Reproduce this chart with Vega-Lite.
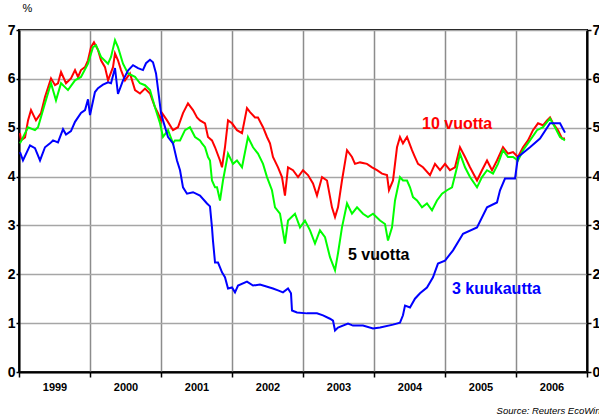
{
  "$schema": "https://vega.github.io/schema/vega-lite/v6.json",
  "width": 568,
  "height": 342,
  "autosize": {"type": "none"},
  "padding": {"left": 19, "top": 30, "right": 12, "bottom": 47},
  "background": "white",
  "config": {"font": "Liberation Sans", "view": {"stroke": "black", "strokeWidth": 2}},
  "title": {"text": "Source: Reuters EcoWin", "orient": "bottom", "anchor": "end", "fontSize": 9.5, "fontStyle": "italic", "fontWeight": "normal", "color": "black", "offset": 14, "dx": -22, "limit": 1000},
  "datasets": {
    "r10": [
      {"t":1999.014,"value":4.89},{"t":1999.028,"value":4.74},{"t":1999.085,"value":4.80},{"t":1999.127,"value":5.15},{"t":1999.169,"value":5.36},{"t":1999.239,"value":5.15},{"t":1999.31,"value":5.30},{"t":1999.366,"value":5.63},{"t":1999.451,"value":6.01},{"t":1999.507,"value":5.87},{"t":1999.549,"value":5.91},{"t":1999.592,"value":6.14},{"t":1999.662,"value":5.91},{"t":1999.732,"value":6.01},{"t":1999.789,"value":6.18},{"t":1999.831,"value":6.04},{"t":1999.873,"value":6.18},{"t":1999.93,"value":6.24},{"t":1999.972,"value":6.38},
      {"t":2000.014,"value":6.65},{"t":2000.056,"value":6.75},{"t":2000.113,"value":6.59},{"t":2000.155,"value":6.38},{"t":2000.211,"value":6.24},{"t":2000.254,"value":5.97},{"t":2000.324,"value":6.24},{"t":2000.352,"value":6.52},{"t":2000.394,"value":6.38},{"t":2000.437,"value":6.18},{"t":2000.493,"value":5.97},{"t":2000.563,"value":6.11},{"t":2000.634,"value":5.77},{"t":2000.704,"value":5.70},{"t":2000.775,"value":5.80},{"t":2000.845,"value":5.70},{"t":2000.915,"value":5.42},{"t":2000.958,"value":5.30},
      {"t":2001.0,"value":5.15},{"t":2001.014,"value":5.30},{"t":2001.085,"value":5.15},{"t":2001.169,"value":4.95},{"t":2001.239,"value":5.01},{"t":2001.31,"value":5.30},{"t":2001.38,"value":5.50},{"t":2001.451,"value":5.36},{"t":2001.507,"value":5.21},{"t":2001.549,"value":5.15},{"t":2001.62,"value":5.09},{"t":2001.662,"value":4.81},{"t":2001.718,"value":4.74},{"t":2001.761,"value":4.60},{"t":2001.831,"value":4.33},{"t":2001.859,"value":4.19},{"t":2001.901,"value":4.60},{"t":2001.944,"value":5.15},
      {"t":2002.0,"value":5.09},{"t":2002.07,"value":4.95},{"t":2002.141,"value":4.89},{"t":2002.211,"value":5.40},{"t":2002.254,"value":5.32},{"t":2002.324,"value":5.21},{"t":2002.366,"value":5.21},{"t":2002.437,"value":5.01},{"t":2002.493,"value":4.81},{"t":2002.535,"value":4.68},{"t":2002.577,"value":4.40},{"t":2002.648,"value":4.19},{"t":2002.704,"value":3.99},{"t":2002.746,"value":3.61},{"t":2002.789,"value":4.19},{"t":2002.859,"value":4.13},{"t":2002.93,"value":3.99},
      {"t":2003.0,"value":4.13},{"t":2003.07,"value":4.03},{"t":2003.141,"value":3.86},{"t":2003.197,"value":3.61},{"t":2003.268,"value":3.99},{"t":2003.338,"value":3.92},{"t":2003.408,"value":3.37},{"t":2003.451,"value":3.17},{"t":2003.493,"value":3.37},{"t":2003.549,"value":3.92},{"t":2003.62,"value":4.54},{"t":2003.69,"value":4.40},{"t":2003.732,"value":4.26},{"t":2003.803,"value":4.29},{"t":2003.901,"value":4.26},{"t":2003.972,"value":4.19},
      {"t":2004.042,"value":4.13},{"t":2004.113,"value":4.06},{"t":2004.183,"value":4.03},{"t":2004.211,"value":3.72},{"t":2004.268,"value":3.92},{"t":2004.324,"value":4.60},{"t":2004.366,"value":4.81},{"t":2004.408,"value":4.68},{"t":2004.465,"value":4.81},{"t":2004.535,"value":4.54},{"t":2004.577,"value":4.40},{"t":2004.62,"value":4.26},{"t":2004.69,"value":4.19},{"t":2004.789,"value":4.03},{"t":2004.859,"value":4.26},{"t":2004.93,"value":4.13},
      {"t":2005.0,"value":4.26},{"t":2005.07,"value":4.13},{"t":2005.141,"value":4.19},{"t":2005.211,"value":4.60},{"t":2005.282,"value":4.40},{"t":2005.352,"value":4.19},{"t":2005.451,"value":3.92},{"t":2005.521,"value":4.13},{"t":2005.592,"value":4.33},{"t":2005.662,"value":4.13},{"t":2005.732,"value":4.33},{"t":2005.817,"value":4.60},{"t":2005.887,"value":4.47},{"t":2005.958,"value":4.50},
      {"t":2006.028,"value":4.40},{"t":2006.099,"value":4.60},{"t":2006.169,"value":4.74},{"t":2006.239,"value":4.95},{"t":2006.31,"value":5.09},{"t":2006.38,"value":5.05},{"t":2006.437,"value":5.15},{"t":2006.479,"value":5.21},{"t":2006.521,"value":5.09},{"t":2006.592,"value":4.95},{"t":2006.648,"value":4.78},{"t":2006.69,"value":4.78}
    ],
    "r5": [
      {"t":1999.014,"value":4.68},{"t":1999.127,"value":5.01},{"t":1999.225,"value":4.95},{"t":1999.268,"value":5.01},{"t":1999.366,"value":5.50},{"t":1999.451,"value":5.91},{"t":1999.521,"value":5.56},{"t":1999.592,"value":5.91},{"t":1999.69,"value":5.77},{"t":1999.789,"value":5.97},{"t":1999.873,"value":6.04},{"t":1999.972,"value":6.31},
      {"t":2000.042,"value":6.65},{"t":2000.085,"value":6.69},{"t":2000.155,"value":6.45},{"t":2000.254,"value":6.31},{"t":2000.296,"value":6.45},{"t":2000.352,"value":6.79},{"t":2000.394,"value":6.65},{"t":2000.465,"value":6.31},{"t":2000.535,"value":6.11},{"t":2000.634,"value":6.04},{"t":2000.704,"value":5.91},{"t":2000.775,"value":5.87},{"t":2000.845,"value":5.77},{"t":2000.915,"value":5.42},{"t":2000.986,"value":5.09},
      {"t":2001.028,"value":4.81},{"t":2001.099,"value":4.95},{"t":2001.169,"value":4.68},{"t":2001.197,"value":4.74},{"t":2001.268,"value":4.74},{"t":2001.338,"value":4.95},{"t":2001.408,"value":5.01},{"t":2001.479,"value":4.81},{"t":2001.549,"value":4.74},{"t":2001.577,"value":4.68},{"t":2001.62,"value":4.60},{"t":2001.662,"value":4.40},{"t":2001.69,"value":4.33},{"t":2001.718,"value":3.92},{"t":2001.761,"value":3.78},{"t":2001.789,"value":3.78},{"t":2001.831,"value":3.51},{"t":2001.873,"value":3.92},{"t":2001.944,"value":4.47},
      {"t":2002.014,"value":4.26},{"t":2002.07,"value":4.33},{"t":2002.141,"value":4.19},{"t":2002.225,"value":4.81},{"t":2002.296,"value":4.60},{"t":2002.366,"value":4.47},{"t":2002.437,"value":4.26},{"t":2002.493,"value":3.99},{"t":2002.563,"value":3.72},{"t":2002.606,"value":3.37},{"t":2002.676,"value":3.24},{"t":2002.746,"value":2.63},{"t":2002.789,"value":3.10},{"t":2002.887,"value":3.24},{"t":2002.958,"value":2.96},
      {"t":2003.028,"value":3.10},{"t":2003.099,"value":2.90},{"t":2003.169,"value":2.63},{"t":2003.239,"value":2.90},{"t":2003.31,"value":2.76},{"t":2003.38,"value":2.35},{"t":2003.451,"value":2.08},{"t":2003.493,"value":2.43},{"t":2003.549,"value":2.96},{"t":2003.62,"value":3.45},{"t":2003.69,"value":3.24},{"t":2003.761,"value":3.37},{"t":2003.845,"value":3.24},{"t":2003.915,"value":3.17},{"t":2003.986,"value":3.24},
      {"t":2004.085,"value":3.10},{"t":2004.155,"value":3.03},{"t":2004.197,"value":2.69},{"t":2004.254,"value":2.96},{"t":2004.296,"value":3.51},{"t":2004.366,"value":3.99},{"t":2004.408,"value":3.92},{"t":2004.465,"value":3.92},{"t":2004.507,"value":3.78},{"t":2004.549,"value":3.58},{"t":2004.606,"value":3.51},{"t":2004.676,"value":3.37},{"t":2004.746,"value":3.45},{"t":2004.817,"value":3.31},{"t":2004.887,"value":3.51},{"t":2004.958,"value":3.65},
      {"t":2005.028,"value":3.72},{"t":2005.099,"value":3.78},{"t":2005.169,"value":4.19},{"t":2005.211,"value":4.47},{"t":2005.282,"value":4.19},{"t":2005.352,"value":3.99},{"t":2005.451,"value":3.78},{"t":2005.521,"value":3.99},{"t":2005.592,"value":4.13},{"t":2005.676,"value":4.06},{"t":2005.746,"value":4.26},{"t":2005.817,"value":4.54},{"t":2005.887,"value":4.40},{"t":2005.958,"value":4.40},
      {"t":2006.028,"value":4.33},{"t":2006.099,"value":4.54},{"t":2006.197,"value":4.74},{"t":2006.296,"value":4.95},{"t":2006.38,"value":5.01},{"t":2006.479,"value":5.19},{"t":2006.549,"value":5.01},{"t":2006.62,"value":4.81},{"t":2006.69,"value":4.74}
    ],
    "r3m": [
      {"t":1999.014,"value":4.50},{"t":1999.056,"value":4.33},{"t":1999.155,"value":4.64},{"t":1999.225,"value":4.58},{"t":1999.296,"value":4.33},{"t":1999.366,"value":4.60},{"t":1999.437,"value":4.68},{"t":1999.479,"value":4.74},{"t":1999.549,"value":4.70},{"t":1999.62,"value":4.97},{"t":1999.662,"value":4.86},{"t":1999.732,"value":4.93},{"t":1999.789,"value":5.12},{"t":1999.873,"value":5.30},{"t":1999.93,"value":5.36},{"t":1999.972,"value":5.58},
      {"t":2000.0,"value":5.26},{"t":2000.07,"value":5.73},{"t":2000.113,"value":5.81},{"t":2000.183,"value":5.88},{"t":2000.254,"value":5.93},{"t":2000.296,"value":5.91},{"t":2000.352,"value":6.22},{"t":2000.394,"value":5.69},{"t":2000.465,"value":5.97},{"t":2000.535,"value":6.17},{"t":2000.606,"value":6.28},{"t":2000.676,"value":6.22},{"t":2000.746,"value":6.18},{"t":2000.789,"value":6.32},{"t":2000.845,"value":6.39},{"t":2000.887,"value":6.34},{"t":2000.93,"value":6.11},{"t":2000.972,"value":5.63},
      {"t":2001.0,"value":5.30},{"t":2001.028,"value":5.15},{"t":2001.099,"value":4.81},{"t":2001.169,"value":4.68},{"t":2001.225,"value":4.33},{"t":2001.268,"value":4.13},{"t":2001.31,"value":3.78},{"t":2001.366,"value":3.65},{"t":2001.451,"value":3.68},{"t":2001.549,"value":3.61},{"t":2001.648,"value":3.45},{"t":2001.69,"value":3.39},{"t":2001.718,"value":2.96},{"t":2001.732,"value":2.69},{"t":2001.761,"value":2.24},{"t":2001.803,"value":2.24},{"t":2001.831,"value":2.14},{"t":2001.859,"value":2.04},{"t":2001.901,"value":1.94},{"t":2001.944,"value":1.71},
      {"t":2002.0,"value":1.73},{"t":2002.042,"value":1.63},{"t":2002.085,"value":1.77},{"t":2002.211,"value":1.85},{"t":2002.296,"value":1.77},{"t":2002.394,"value":1.79},{"t":2002.577,"value":1.71},{"t":2002.648,"value":1.67},{"t":2002.718,"value":1.63},{"t":2002.789,"value":1.71},{"t":2002.831,"value":1.61},{"t":2002.845,"value":1.26},{"t":2002.915,"value":1.22},
      {"t":2003.056,"value":1.20},{"t":2003.197,"value":1.20},{"t":2003.282,"value":1.16},{"t":2003.38,"value":1.09},{"t":2003.423,"value":1.05},{"t":2003.451,"value":0.85},{"t":2003.493,"value":0.91},{"t":2003.634,"value":0.99},{"t":2003.704,"value":0.95},{"t":2003.845,"value":0.95},{"t":2003.986,"value":0.89},
      {"t":2004.085,"value":0.91},{"t":2004.268,"value":0.97},{"t":2004.366,"value":1.01},{"t":2004.408,"value":1.16},{"t":2004.437,"value":1.36},{"t":2004.507,"value":1.32},{"t":2004.577,"value":1.50},{"t":2004.648,"value":1.61},{"t":2004.746,"value":1.73},{"t":2004.831,"value":1.94},{"t":2004.901,"value":2.22},
      {"t":2005.0,"value":2.28},{"t":2005.113,"value":2.49},{"t":2005.254,"value":2.83},{"t":2005.451,"value":2.96},{"t":2005.592,"value":3.37},{"t":2005.732,"value":3.47},{"t":2005.775,"value":3.72},{"t":2005.845,"value":3.96},{"t":2005.986,"value":3.96},
      {"t":2006.028,"value":4.40},{"t":2006.197,"value":4.60},{"t":2006.338,"value":4.78},{"t":2006.479,"value":5.09},{"t":2006.62,"value":5.09},{"t":2006.69,"value":4.90}
    ],
    "labels": [
      {"t":2004.676,"value":5.07,"label":"10 vuotta"},
      {"t":2003.634,"value":2.39,"label":"5 vuotta"},
      {"t":2005.099,"value":1.69,"label":"3 kuukautta"}
    ]
  },
  "encoding": {
    "x": {
      "field": "t", "type": "quantitative",
      "scale": {"domain": [1999, 2007], "nice": false, "zero": false},
      "axis": {
        "title": null, "values": [1999, 2000, 2001, 2002, 2003, 2004, 2005, 2006, 2007], "format": "d",
        "labelExpr": "datum.value < 2007 ? datum.label : ''",
        "labelOffset": 35.5, "labelFontWeight": "bold", "labelFontSize": 11, "labelColor": "black",
        "labelPadding": 4, "labelFlush": false, "labelOverlap": false, "labelBound": false,
        "tickSize": 5, "tickColor": "black", "tickWidth": 1.5,
        "domainColor": "black", "domainWidth": 2,
        "grid": true, "gridColor": "#8c8c8c", "gridWidth": 1.5
      }
    }
  },
  "layer": [
    {
      "data": {"name": "r10"},
      "mark": {"type": "line", "color": "#ff0000", "strokeWidth": 2},
      "encoding": {
        "y": {
          "field": "value", "type": "quantitative",
          "scale": {"domain": [0, 7], "nice": false},
          "axis": {
            "title": "%", "titleAngle": 0, "titleAlign": "left", "titleBaseline": "middle",
            "titleX": 3, "titleY": -22, "titleFontSize": 11, "titleFontWeight": "normal", "titleColor": "black",
            "values": [0, 1, 2, 3, 4, 5, 6, 7], "format": "d",
            "labelFontSize": 14, "labelFontWeight": "bold", "labelColor": "black", "labelPadding": 1,
            "tickSize": 3, "tickColor": "black", "tickWidth": 1.5,
            "domainColor": "black", "domainWidth": 2,
            "grid": true, "gridColor": "#a6a6a6", "gridWidth": 1.5
          }
        }
      }
    },
    {
      "data": {"name": "r5"},
      "mark": {"type": "line", "color": "#00ff00", "strokeWidth": 2},
      "encoding": {
        "y": {"field": "value", "type": "quantitative", "scale": {"domain": [0, 7], "nice": false}, "axis": null}
      }
    },
    {
      "data": {"name": "r3m"},
      "mark": {"type": "line", "color": "#0000ff", "strokeWidth": 2},
      "encoding": {
        "y": {
          "field": "value", "type": "quantitative", "scale": {"domain": [0, 7], "nice": false},
          "axis": {
            "orient": "right", "title": null, "values": [0, 1, 2, 3, 4, 5, 6, 7], "format": "d",
            "labelFontSize": 14, "labelFontWeight": "bold", "labelColor": "black", "labelPadding": 1,
            "tickSize": 4, "tickColor": "black", "tickWidth": 1.5,
            "domainColor": "black", "domainWidth": 2, "grid": false
          }
        }
      }
    },
    {
      "data": {"name": "labels"},
      "mark": {"type": "text", "align": "left", "baseline": "middle", "fontSize": 16, "fontWeight": "bold"},
      "encoding": {
        "y": {"field": "value", "type": "quantitative", "scale": {"domain": [0, 7], "nice": false}, "axis": null},
        "text": {"field": "label"},
        "color": {
          "field": "label", "type": "nominal", "legend": null,
          "scale": {"domain": ["10 vuotta", "5 vuotta", "3 kuukautta"], "range": ["#ff0000", "#000000", "#0000ff"]}
        }
      }
    }
  ],
  "resolve": {"axis": {"y": "independent"}}
}
